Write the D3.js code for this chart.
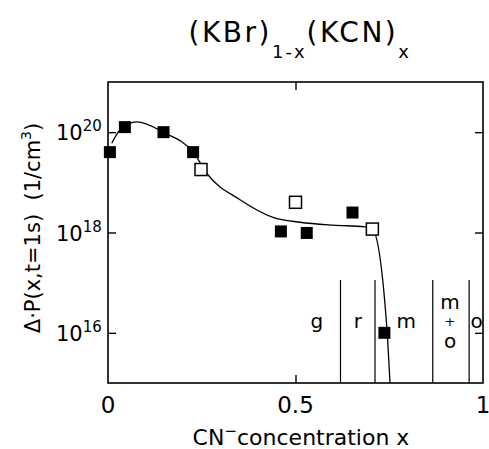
<!DOCTYPE html>
<html>
<head>
<meta charset="utf-8">
<script src="https://cdn.jsdelivr.net/npm/d3@7"></script>
<style>
  body { margin: 0; background: #fff; }
  text { font-family: "DejaVu Sans", sans-serif; fill: #000; }
</style>
</head>
<body>
<svg id="chart" width="489" height="449"></svg>
<script>
// measured points, filled and open squares
var filledX = [0.005, 0.045, 0.148, 0.227, 0.461, 0.530, 0.652, 0.737];
var filledP = [4.0e19, 1.26e20, 1.0e20, 4.0e19, 1.05e18, 9.8e17, 2.5e18, 1.0e16];
var openX = [0.248, 0.500, 0.705];
var openP = [1.8e19, 4.0e18, 1.17e18];

// guide-to-the-eye curve
var curveX = [0.010, 0.032, 0.077, 0.147, 0.227, 0.267, 0.352, 0.440, 0.512, 0.600, 0.685, 0.705, 0.743, 0.752];
var curveP = [6.0e19, 1.1e20, 1.6e20, 1.0e20, 4.0e19, 1.4e19, 4.5e18, 2.0e18, 1.6e18, 1.4e18, 1.3e18, 1.17e18, 1.45e16, 1.0e15];

// phase boundaries and labels
var boundaryX = [0.62, 0.712, 0.866, 0.963];
var phaseLabels = [
  {x: 0.557, lines: ["g"]},
  {x: 0.666, lines: ["r"]},
  {x: 0.795, lines: ["m"]},
  {x: 0.912, lines: ["m", "+", "o"]},
  {x: 0.983, lines: ["o"]}
];

var xTicks = [0, 0.5, 1];
var xTickLabels = ["0", "0.5", "1"];
var yTicks = [1e16, 1e18, 1e20];
var yTickExp = ["16", "18", "20"];

var margin = {top: 82, right: 6, bottom: 66, left: 108};
var width = 489, height = 449;

var svg = d3.select("#chart");

var x = d3.scaleLinear().domain([0, 1]).range([margin.left, width - margin.right]);
var y = d3.scaleLog().domain([1e15, 1e21]).range([height - margin.bottom, margin.top]);

// frame
svg.append("rect")
  .attr("x", x(0)).attr("y", y(1e21))
  .attr("width", x(1) - x(0)).attr("height", y(1e15) - y(1e21))
  .attr("fill", "none").attr("stroke", "#000").attr("stroke-width", 1.6);

// inward ticks on all four sides
svg.append("g")
  .attr("transform", "translate(0," + y(1e15) + ")")
  .call(d3.axisTop(x).tickValues([0.5]).tickSize(8).tickFormat(""))
  .call(g => g.select(".domain").remove());
svg.append("g")
  .attr("transform", "translate(0," + y(1e21) + ")")
  .call(d3.axisBottom(x).tickValues([0.5]).tickSize(8).tickFormat(""))
  .call(g => g.select(".domain").remove());
svg.append("g")
  .attr("transform", "translate(" + x(0) + ",0)")
  .call(d3.axisRight(y).tickValues(yTicks).tickSize(8).tickFormat(""))
  .call(g => g.select(".domain").remove());
svg.append("g")
  .attr("transform", "translate(" + x(1) + ",0)")
  .call(d3.axisLeft(y).tickValues(yTicks).tickSize(8).tickFormat(""))
  .call(g => g.select(".domain").remove());
svg.selectAll(".tick line").attr("stroke-width", 1.4);

// x tick labels
svg.selectAll(".xlab")
  .data(xTicks)
  .enter().append("text")
  .attr("x", d => x(d))
  .attr("y", 413)
  .attr("text-anchor", "middle")
  .attr("font-size", 23)
  .text((d, i) => xTickLabels[i]);

// y tick labels, 10 with exponent
yTicks.forEach(function(v, i) {
  var t = svg.append("text")
    .attr("x", 56)
    .attr("y", y(v) + 8)
    .attr("font-size", 21);
  t.append("tspan").text("10");
  t.append("tspan").attr("dy", -9).attr("font-size", 15).text(yTickExp[i]);
});

// phase boundaries
svg.selectAll(".boundary")
  .data(boundaryX)
  .enter().append("line")
  .attr("x1", d => x(d)).attr("x2", d => x(d))
  .attr("y1", 280).attr("y2", y(1e15))
  .attr("stroke", "#000").attr("stroke-width", 1.2);

phaseLabels.forEach(function(p) {
  var n = p.lines.length;
  var ys = [309, 326, 348];
  p.lines.forEach(function(s, i) {
    svg.append("text")
      .attr("x", x(p.x))
      .attr("y", n == 1 ? 328 : ys[i])
      .attr("text-anchor", "middle")
      .attr("font-size", s == "+" ? 13 : 20)
      .text(s);
  });
});

// curve
var pts = curveX.map((d, i) => [d, curveP[i]]);
var line = d3.line()
  .x(d => x(d[0]))
  .y(d => y(d[1]))
  .curve(d3.curveMonotoneX);
svg.append("path")
  .datum(pts)
  .attr("d", line)
  .attr("fill", "none")
  .attr("stroke", "#000")
  .attr("stroke-width", 1.3);

// squares
var s = 12;
svg.selectAll(".filled")
  .data(filledX)
  .enter().append("rect")
  .attr("x", d => x(d) - s / 2)
  .attr("y", (d, i) => y(filledP[i]) - s / 2)
  .attr("width", s).attr("height", s)
  .attr("fill", "#000");

svg.selectAll(".open")
  .data(openX)
  .enter().append("rect")
  .attr("x", d => x(d) - s / 2)
  .attr("y", (d, i) => y(openP[i]) - s / 2)
  .attr("width", s).attr("height", s)
  .attr("fill", "#fff").attr("stroke", "#000").attr("stroke-width", 1.5);

// title
var title = svg.append("text")
  .attr("x", 300).attr("y", 42)
  .attr("text-anchor", "middle")
  .attr("font-size", 28)
  .attr("letter-spacing", 2.5);
title.append("tspan").text("(KBr)");
title.append("tspan").attr("dy", 16).attr("font-size", 18).attr("letter-spacing", 2).text("1-x");
title.append("tspan").attr("dy", -16).text("(KCN)");
title.append("tspan").attr("dy", 16).attr("font-size", 18).text("x");

// x axis title
var xt = svg.append("text")
  .attr("x", 301).attr("y", 445)
  .attr("text-anchor", "middle")
  .attr("font-size", 22);
xt.append("tspan").text("CN");
xt.append("tspan").attr("dy", -9).attr("font-size", 15).text("\u2212");
xt.append("tspan").attr("dy", 9).text("concentration x");

// y axis title
var yt = svg.append("text")
  .attr("transform", "translate(40,228) rotate(-90)")
  .attr("text-anchor", "middle")
  .attr("font-size", 21)
  .attr("xml:space", "preserve");
yt.append("tspan").text("\u0394\u00b7P(x,t=1s)  (1/cm");
yt.append("tspan").attr("dy", -9).attr("font-size", 14).text("3");
yt.append("tspan").attr("dy", 9).text(")");
</script>
</body>
</html>
